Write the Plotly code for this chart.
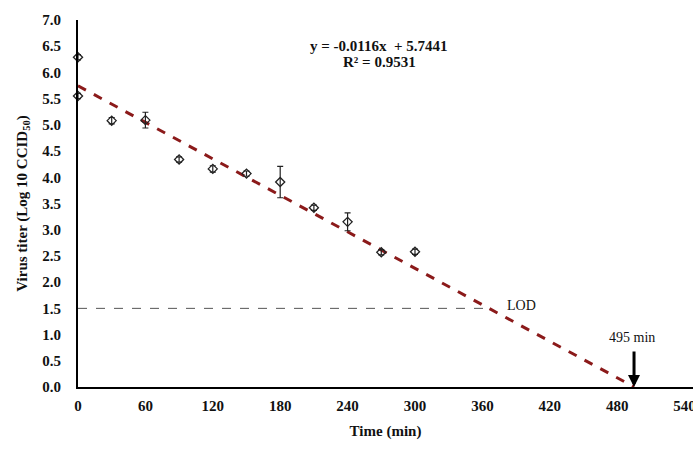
import plotly.graph_objects as go

time_min = [0, 0, 30, 60, 90, 120, 150, 180, 210, 240, 270, 300]
titer = [6.29, 5.55, 5.08, 5.09, 4.34, 4.16, 4.07, 3.91, 3.42, 3.15, 2.57, 2.58]
titer_err = [0.05, 0.05, 0.06, 0.15, 0.05, 0.06, 0.05, 0.30, 0.05, 0.17, 0.05, 0.05]

slope = -0.0116
intercept = 5.7441
fit_x = [0, 495]
fit_y = [intercept + slope * x for x in fit_x]

lod = 1.5
lod_x = [0, (intercept - lod) / -slope]

x_ticks = [0, 60, 120, 180, 240, 300, 360, 420, 480, 540]
y_ticks = [0.0, 0.5, 1.0, 1.5, 2.0, 2.5, 3.0, 3.5, 4.0, 4.5, 5.0, 5.5, 6.0, 6.5, 7.0]

FONT = "Liberation Serif"

fig = go.Figure()
fig.add_trace(go.Scatter(x=lod_x, y=[lod, lod], mode="lines",
                         line=dict(color="#555555", width=1, dash="dash"),
                         showlegend=False, hoverinfo="skip"))
fig.add_trace(go.Scatter(x=fit_x, y=fit_y, mode="lines",
                         line=dict(color="#8B1A1A", width=3, dash="dash"),
                         showlegend=False))
fig.add_trace(go.Scatter(x=time_min, y=titer, mode="markers",
                         marker=dict(symbol="diamond-open", size=7, color="#222222",
                                     line=dict(width=1.3, color="#222222")),
                         error_y=dict(type="data", array=titer_err, visible=True,
                                      color="#222222", thickness=1.2, width=3),
                         showlegend=False, cliponaxis=False))

fig.update_layout(
    width=693, height=449,
    margin=dict(l=78, r=0, t=20, b=62),
    plot_bgcolor="white", paper_bgcolor="white",
    font=dict(family=FONT, color="#111111"),
    xaxis=dict(range=[0, 547.5], tickvals=x_ticks, ticktext=[str(v) for v in x_ticks],
               showgrid=False, zeroline=False, showline=True, linecolor="black",
               linewidth=2, ticks="", automargin=False, ticklabelstandoff=4,
               ticklabeloverflow="allow",
               tickfont=dict(size=15, family=FONT, weight="bold"),
               title=dict(text="<b>Time (min)</b>", font=dict(size=15, family=FONT),
                          standoff=12)),
    yaxis=dict(range=[0, 7], tickvals=y_ticks, ticktext=[f"{v:.1f}" for v in y_ticks],
               showgrid=False, zeroline=False, showline=True, linecolor="black",
               linewidth=2, ticks="", automargin=False, ticklabelstandoff=12,
               tickfont=dict(size=15, family=FONT, weight="bold"),
               title=dict(text="<b>Virus titer (Log 10 CCID<sub>50</sub>)</b>",
                          font=dict(size=15, family=FONT), standoff=11)),
    annotations=[
        dict(x=268, y=6.51, text="<b>y = -0.0116x  + 5.7441</b>", showarrow=False,
             font=dict(size=15, family=FONT)),
        dict(x=268, y=6.19, text="<b>R² = 0.9531</b>", showarrow=False,
             font=dict(size=15, family=FONT)),
        dict(x=395, y=1.56, text="LOD", showarrow=False, font=dict(size=14, family=FONT)),
        dict(x=493, y=0.95, text="495 min", showarrow=False, font=dict(size=14, family=FONT)),
        dict(x=495, y=0.0, ax=0, ay=-37, text="", showarrow=True, arrowhead=2,
             arrowsize=0.8, arrowwidth=3, arrowcolor="black"),
    ],
)

fig.write_html("out.html", config={"displayModeBar": False},
               post_script="document.body.style.margin='0';document.body.style.overflow='hidden';")
